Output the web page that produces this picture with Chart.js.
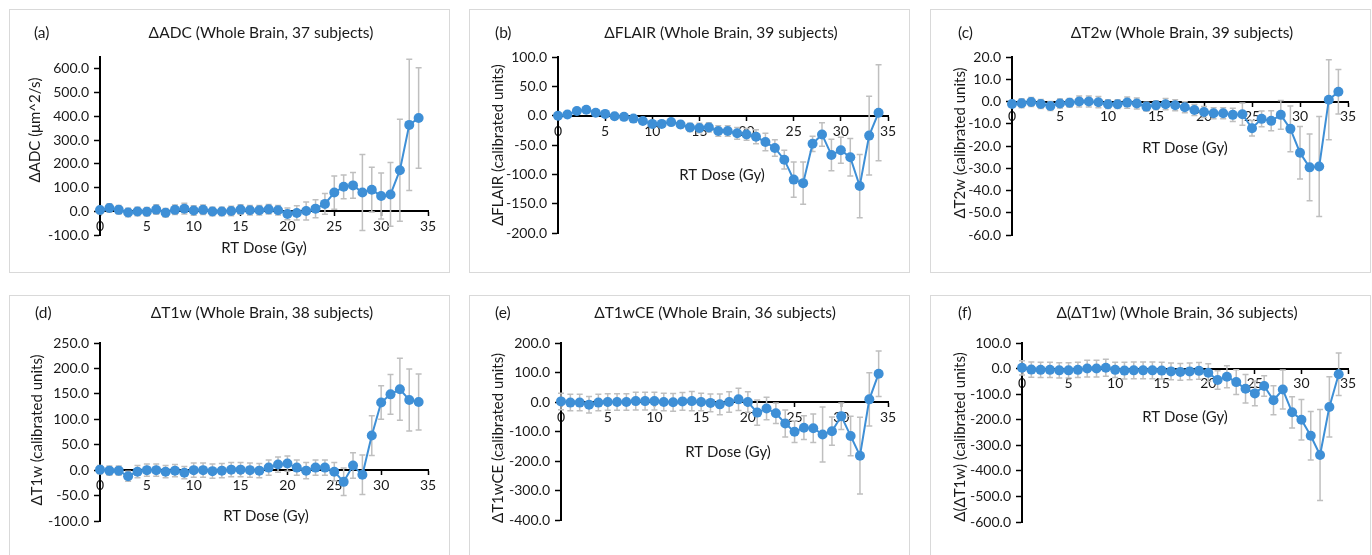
<!DOCTYPE html>
<html>
<head>
<meta charset="utf-8">
<script src="https://cdn.jsdelivr.net/npm/chart.js@4.4.1/dist/chart.umd.min.js"></script>
<style>
  html, body { margin: 0; padding: 0; background: #fff; }
  body { width: 1372px; height: 555px; overflow: hidden; position: relative; }
  .panel { position: absolute; box-sizing: border-box; border: 1px solid #d9d9d9; background: #fff; }
  .panel canvas { position: absolute; left: 0; top: 0; }
</style>
</head>
<body>
<div class="panel" id="pa"><canvas id="ca"></canvas></div>
<div class="panel" id="pb"><canvas id="cb"></canvas></div>
<div class="panel" id="pc"><canvas id="cc"></canvas></div>
<div class="panel" id="pd"><canvas id="cd"></canvas></div>
<div class="panel" id="pe"><canvas id="ce"></canvas></div>
<div class="panel" id="pf"><canvas id="cf"></canvas></div>
<script>
// RT dose (Gy) for each time point
const dose = [0, 1, 2, 3, 4, 5, 6, 7, 8, 9, 10, 11, 12, 13, 14, 15, 16, 17,
  18, 19, 20, 21, 22, 23, 24, 25, 26, 27, 28, 29, 30, 31, 32, 33, 34];
const xTicks = [0, 5, 10, 15, 20, 25, 30, 35];

// (a) ADC
const adcMean = [5, 14, 6, -5, -1, -2, 7, -6, 6, 11, 3, 6, -1, -1, 1, 7, 4, 4, 8, 4,
  -11, -7, 1, 11, 31, 79, 103, 109, 79, 91, 64, 71, 173, 364, 393];
const adcErr = [15, 18, 18, 18, 18, 18, 20, 18, 20, 23, 20, 20, 18, 18, 20, 20, 20, 20, 20, 20,
  25, 30, 38, 38, 44, 70, 50, 54, 160, 94, 97, 134, 215, 277, 212];
const adcTicks = [-100, 0, 100, 200, 300, 400, 500, 600];

// (b) FLAIR
const flairMean = [0, 2, 8, 10, 5, 3, -1, -2, -5, -9, -14, -14, -11, -15, -20, -21, -20, -26, -26, -30,
  -32, -36, -45, -55, -75, -109, -115, -48, -32, -67, -59, -71, -120, -34, 5];
const flairErr = [2, 3, 3, 4, 3, 3, 3, 3, 4, 4, 5, 5, 5, 6, 7, 8, 8, 9, 9, 10,
  10, 12, 15, 14, 16, 30, 36, 13, 20, 27, 22, 32, 54, 67, 82];
const flairTicks = [-200, -150, -100, -50, 0, 50, 100];

// (c) T2w
const t2wMean = [-1.1, -0.8, -0.2, -1.1, -2.0, -0.9, -0.6, 0, 0, -0.3, -1.2, -1.2, -0.5, -0.9, -2.3, -1.7, -1.2, -1.7, -2.6, -3.8,
  -4.7, -5.3, -5.3, -6.0, -5.7, -12.0, -7.8, -8.7, -6.0, -12.3, -23.0, -29.6, -29.2, 0.8, 4.4];
const t2wErr = [1.5, 2, 2, 2, 2, 2, 2, 2.5, 2.5, 2.5, 2, 2, 2.5, 2.5, 2, 2, 2.5, 2.5, 2.5, 2.5,
  2.5, 2.5, 2.5, 3, 5, 3.5, 3.5, 4.5, 6.5, 10.3, 11.8, 15, 22.5, 18, 10];
const t2wTicks = [-60, -50, -40, -30, -20, -10, 0, 10, 20];

// (d) T1w
const t1wMean = [1, -1, -1, -12, -3, 0, 0, -3, -1, -5, 0, 0, -2, -1, 1, 1, 0, -1, 5, 11,
  13, 5, -1, 5, 5, -3, -23, 9, -9, 68, 133, 149, 159, 138, 134];
const t1wErr = [8, 9, 9, 10, 12, 12, 12, 12, 12, 12, 14, 14, 14, 14, 14, 14, 14, 14, 15, 15,
  15, 15, 16, 15, 15, 18, 27, 25, 39, 39, 33, 39, 61, 61, 55];
const t1wTicks = [-100, -50, 0, 50, 100, 150, 200, 250];

// (e) T1wCE
const t1wceMean = [2, -2, -2, -9, -2, 0, 0, 0, 3, 3, 3, 0, -1, 2, 3, 0, -3, -8, 0, 9,
  0, -36, -22, -38, -73, -101, -87, -89, -110, -99, -48, -115, -182, 9, 96];
const t1wceErr = [28, 28, 28, 28, 28, 28, 28, 28, 30, 30, 30, 30, 30, 30, 33, 30, 30, 35, 35, 38,
  35, 43, 38, 35, 46, 36, 40, 48, 93, 48, 45, 67, 130, 90, 77];
const t1wceTicks = [-400, -300, -200, -100, 0, 100, 200];

// (f) delta(delta T1w)
const ddT1wMean = [3, -4, -5, -5, -7, -7, -5, 0, 0, 3, -5, -8, -7, -7, -7, -8, -11, -13, -11, -9,
  -16, -45, -32, -53, -79, -97, -68, -124, -82, -171, -200, -263, -338, -150, -22];
const ddT1wErr = [28, 30, 30, 30, 30, 30, 30, 33, 33, 33, 30, 33, 33, 33, 33, 33, 33, 33, 33, 33,
  35, 36, 43, 48, 56, 48, 40, 57, 76, 61, 79, 95, 178, 118, 83];
const ddT1wTicks = [-600, -500, -400, -300, -200, -100, 0, 100];

const xTitle = 'RT Dose (Gy)';

const FONT = 'Lato, "Open Sans", sans-serif';
const TEXT = '#1a1a1a';
const BLUE = '#3e8fd6';

// Error bars drawn under the line and markers
const errorBars = {
  id: 'errorBars',
  beforeDatasetsDraw(chart) {
    const {ctx, scales: {x, y}} = chart;
    const errs = chart.options.plugins.errorBars.err;
    const pts = chart.data.datasets[0].data;
    ctx.save();
    ctx.strokeStyle = '#bfbfbf';
    ctx.lineWidth = 1.5;
    pts.forEach((p, i) => {
      const px = x.getPixelForValue(p.x);
      const top = y.getPixelForValue(p.y + errs[i]);
      const bot = y.getPixelForValue(p.y - errs[i]);
      ctx.beginPath();
      ctx.moveTo(px, top); ctx.lineTo(px, bot);
      ctx.moveTo(px - 3, top); ctx.lineTo(px + 3, top);
      ctx.moveTo(px - 3, bot); ctx.lineTo(px + 3, bot);
      ctx.stroke();
    });
    ctx.restore();
  }
};

// Panel letter, title and axis titles, placed like the original
const panelText = {
  id: 'panelText',
  afterDraw(chart) {
    const o = chart.options.plugins.panelText;
    const ctx = chart.ctx;
    ctx.save();
    ctx.fillStyle = TEXT;
    ctx.textBaseline = 'middle';
    ctx.font = '15.5px ' + FONT;
    ctx.textAlign = 'left';
    ctx.fillText(o.label, o.labelPos[0], o.labelPos[1]);
    ctx.textAlign = 'center';
    ctx.fillText(o.title, o.titlePos[0], o.titlePos[1]);
    ctx.font = '15px ' + FONT;
    ctx.fillText(o.xTitle, o.xTitlePos[0], o.xTitlePos[1]);
    ctx.translate(o.yTitlePos[0], o.yTitlePos[1]);
    ctx.rotate(-Math.PI / 2);
    ctx.fillText(o.yTitle, 0, 0);
    ctx.restore();
  }
};

function makePanel(cfg) {
  const panel = document.getElementById(cfg.panel);
  const [fx, fy, fw, fh] = cfg.frame;
  panel.style.left = fx + 'px';
  panel.style.top = fy + 'px';
  panel.style.width = fw + 'px';
  panel.style.height = fh + 'px';
  const ox = fx + 1, oy = fy + 1;
  const cw = fw - 2, ch = fh - 2;
  const canvas = document.getElementById(cfg.canvas);
  canvas.width = cw; canvas.height = ch;
  canvas.style.width = cw + 'px'; canvas.style.height = ch + 'px';
  const [al, at, ar, ab] = cfg.area;
  const rel = p => [p[0] - ox, p[1] - oy];

  new Chart(canvas, {
    type: 'line',
    data: {
      datasets: [{
        data: dose.map((d, i) => ({x: d, y: cfg.mean[i]})),
        borderColor: BLUE,
        backgroundColor: BLUE,
        borderWidth: 2,
        pointRadius: 5,
        pointBorderWidth: 0,
        pointBackgroundColor: BLUE,
        tension: 0,
        clip: false
      }]
    },
    options: {
      responsive: false,
      animation: false,
      devicePixelRatio: 1,
      layout: {
        padding: {left: 0, top: at - oy, right: cw - (ar - ox), bottom: ch - (ab - oy)}
      },
      scales: {
        x: {
          type: 'linear',
          position: {y: 0},
          min: 0, max: 35,
          afterBuildTicks: s => { s.ticks = xTicks.map(v => ({value: v})); },
          border: {color: '#000', width: 2},
          grid: {drawOnChartArea: false, drawTicks: true, tickLength: 4, tickColor: '#000', tickWidth: 1.5},
          ticks: {color: TEXT, font: {family: FONT, size: 14}, padding: 3, maxRotation: 0}
        },
        y: {
          type: 'linear',
          position: 'left',
          min: cfg.yMin, max: cfg.yMax,
          afterBuildTicks: s => { s.ticks = cfg.yTicks.map(v => ({value: v})); },
          afterFit: s => { s.width = al - ox; },
          border: {color: '#000', width: 2},
          grid: {drawOnChartArea: false, drawTicks: true, tickLength: 6, tickColor: '#000', tickWidth: 1.5},
          ticks: {color: TEXT, font: {family: FONT, size: 14}, padding: 5,
            callback: v => v.toFixed(1)}
        }
      },
      plugins: {
        legend: {display: false},
        tooltip: {enabled: false},
        errorBars: {err: cfg.err},
        panelText: {
          label: cfg.label, title: cfg.title, yTitle: cfg.yTitle, xTitle: xTitle,
          labelPos: rel(cfg.labelPos), titlePos: rel(cfg.titlePos),
          yTitlePos: rel(cfg.yTitlePos), xTitlePos: rel(cfg.xTitlePos)
        }
      }
    },
    plugins: [errorBars, panelText]
  });
}

makePanel({
  panel: 'pa', canvas: 'ca', frame: [9, 9, 441, 264], area: [100, 57, 428, 235],
  mean: adcMean, err: adcErr, yMin: -100, yMax: 650, yTicks: adcTicks,
  label: '(a)', title: '\u0394ADC (Whole Brain, 37 subjects)', yTitle: '\u0394ADC (\u03bcm^2/s)',
  labelPos: [34, 33], titlePos: [261, 33], yTitlePos: [35, 130], xTitlePos: [264, 248]
});
makePanel({
  panel: 'pb', canvas: 'cb', frame: [469, 9, 441, 264], area: [558, 57, 888, 233],
  mean: flairMean, err: flairErr, yMin: -200, yMax: 100, yTicks: flairTicks,
  label: '(b)', title: '\u0394FLAIR (Whole Brain, 39 subjects)', yTitle: '\u0394FLAIR (calibrated units)',
  labelPos: [495, 33], titlePos: [721, 33], yTitlePos: [498, 145], xTitlePos: [722, 175]
});
makePanel({
  panel: 'pc', canvas: 'cc', frame: [930, 9, 441, 264], area: [1012, 57, 1348, 235],
  mean: t2wMean, err: t2wErr, yMin: -60, yMax: 20, yTicks: t2wTicks,
  label: '(c)', title: '\u0394T2w (Whole Brain, 39 subjects)', yTitle: '\u0394T2w (calibrated units)',
  labelPos: [958, 33], titlePos: [1182, 33], yTitlePos: [960, 143], xTitlePos: [1185, 148]
});
makePanel({
  panel: 'pd', canvas: 'cd', frame: [9, 295, 441, 270], area: [100, 343, 428, 521],
  mean: t1wMean, err: t1wErr, yMin: -100, yMax: 250, yTicks: t1wTicks,
  label: '(d)', title: '\u0394T1w (Whole Brain, 38 subjects)', yTitle: '\u0394T1w (calibrated units)',
  labelPos: [35, 313], titlePos: [262, 313], yTitlePos: [37, 430], xTitlePos: [266, 516]
});
makePanel({
  panel: 'pe', canvas: 'ce', frame: [469, 295, 441, 270], area: [561, 343, 888, 520],
  mean: t1wceMean, err: t1wceErr, yMin: -400, yMax: 200, yTicks: t1wceTicks,
  label: '(e)', title: '\u0394T1wCE (Whole Brain, 36 subjects)', yTitle: '\u0394T1wCE (calibrated units)',
  labelPos: [495, 313], titlePos: [715, 313], yTitlePos: [498, 438], xTitlePos: [728, 452]
});
makePanel({
  panel: 'pf', canvas: 'cf', frame: [930, 295, 441, 270], area: [1022, 343, 1348, 522],
  mean: ddT1wMean, err: ddT1wErr, yMin: -600, yMax: 100, yTicks: ddT1wTicks,
  label: '(f)', title: '\u0394(\u0394T1w) (Whole Brain, 36 subjects)', yTitle: '\u0394(\u0394T1w) (calibrated units)',
  labelPos: [958, 313], titlePos: [1177, 313], yTitlePos: [960, 437], xTitlePos: [1185, 417]
});
</script>
</body>
</html>
